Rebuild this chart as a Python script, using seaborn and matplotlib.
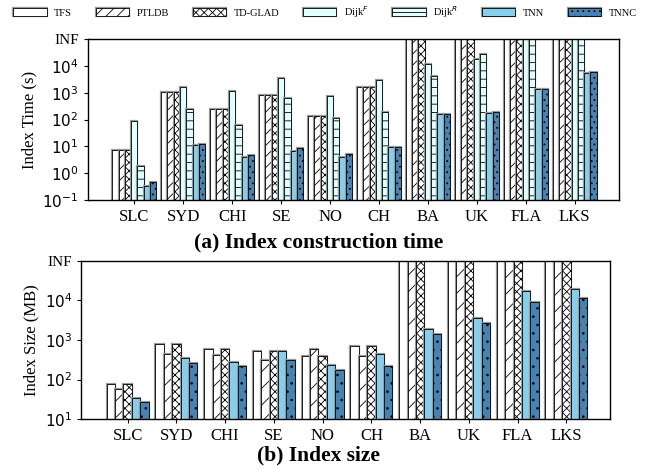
import numpy as np
import pandas as pd
import matplotlib
matplotlib.use("Agg")
import matplotlib.pyplot as plt
import matplotlib.patheffects as pe
import seaborn as sns

sns.set_style("ticks")
plt.rcParams['font.family'] = ['Liberation Serif', 'DejaVu Sans']
plt.rcParams['mathtext.fontset'] = 'dejavusans'
plt.rcParams['hatch.linewidth'] = 0.6
for key in ['text.color', 'axes.labelcolor', 'xtick.color', 'ytick.color']:
    plt.rcParams[key] = 'black'

INF = 1e5

datasets = ['SLC', 'SYD', 'CHI', 'SE', 'NO', 'CH', 'BA', 'UK', 'FLA', 'LKS']

# index construction time (s)
time_methods = ['TFS', 'PTLDB', 'TD-GLAD', 'Dijk$^F$', 'Dijk$^R$', 'TNN', 'TNNC']
t_tfs   = [7.5, 1060, 240, 820, 139, 1630, INF, INF, INF, INF]
t_ptldb = [7.5, 1060, 240, 820, 139, 1630, INF, INF, INF, INF]
t_glad  = [7.5, 1060, 240, 820, 139, 1630, INF, INF, INF, INF]
t_dijkf = [90, 1630, 1180, 3500, 780, 2960, 11700, 17900, INF, INF]
t_dijkr = [1.95, 245, 62, 630, 114, 190, 4300, 27600, INF, INF]
t_tnn   = [0.34, 11.2, 3.9, 6.9, 4.2, 9.4, 160, 178, 1330, 5560]
t_tnnc  = [0.47, 12.6, 4.9, 8.9, 5.2, 9.4, 160, 200, 1360, 5700]

# index size (MB)
size_methods = ['TFS', 'PTLDB', 'TD-GLAD', 'TNN', 'TNNC']
s_tfs   = [77, 785, 585, 525, 390, 725, INF, INF, INF, INF]
s_ptldb = [57, 435, 414, 309, 610, 406, INF, INF, INF, INF]
s_glad  = [77, 785, 585, 525, 390, 725, INF, INF, INF, INF]
s_tnn   = [35, 345, 275, 525, 231, 440, 1870, 3550, 17400, 19200]
s_tnnc  = [27, 260, 218, 309, 173, 218, 1400, 2660, 9030, 11400]

colors = {'TFS': 'white', 'PTLDB': 'white', 'TD-GLAD': 'white',
          'Dijk$^F$': '#e0ffff', 'Dijk$^R$': '#e0ffff',
          'TNN': '#87ceeb', 'TNNC': '#4682b4'}
hatch_top = {'TFS': '', 'PTLDB': '///', 'TD-GLAD': 'xxxx', 'Dijk$^F$': '',
             'Dijk$^R$': '--', 'TNN': '', 'TNNC': '...'}
hatch_bot = {'TFS': '', 'PTLDB': '//', 'TD-GLAD': 'xxxx', 'TNN': '', 'TNNC': '..'}


def long_df(methods, series):
    rows = []
    for m, vals in zip(methods, series):
        for d, v in zip(datasets, vals):
            rows.append({'dataset': d, 'method': m, 'value': v})
    return pd.DataFrame(rows)


df_time = long_df(time_methods, [t_tfs, t_ptldb, t_glad, t_dijkf, t_dijkr, t_tnn, t_tnnc])
df_size = long_df(size_methods, [s_tfs, s_ptldb, s_glad, s_tnn, s_tnnc])

fig = plt.figure(figsize=(6.5, 4.7), dpi=100)
ax1 = fig.add_axes([0.135, 0.574, 0.817, 0.343])
ax2 = fig.add_axes([0.125, 0.108, 0.814, 0.337])


def draw(ax, df, methods, hatches, width, lo, ylabel):
    sns.barplot(data=df, x='dataset', y='value', hue='method', hue_order=methods,
                order=datasets, palette=colors, saturation=1, width=width, errorbar=None,
                edgecolor='black', linewidth=0.6, legend=False, ax=ax)
    for m, cont in zip(methods, ax.containers):
        for bar in cont:
            bar.set_hatch(hatches[m])
            bar.set_path_effects([pe.Stroke(linewidth=1.6, foreground='0.6'), pe.Normal()])
    ax.set_yscale('log')
    ax.set_ylim(lo, INF)
    ticks = [10.0 ** k for k in range(int(np.log10(lo)), 5)] + [INF]
    labels = ['$10^{%d}$' % k for k in range(int(np.log10(lo)), 5)] + ['INF']
    ax.set_yticks(ticks)
    ax.set_yticklabels(labels)
    ax.minorticks_off()
    ax.set_xlim(-0.95, 9.9)
    ax.set_xlabel('')
    ax.set_ylabel(ylabel, fontsize=12)
    ax.tick_params(axis='x', labelsize=12, length=3)
    ax.tick_params(axis='y', labelsize=11, length=3)
    for s in ax.spines.values():
        s.set_linewidth(1.0)
        s.set_color('black')


draw(ax1, df_time, time_methods, hatch_top, 0.9, 1e-1, 'Index Time (s)')
draw(ax2, df_size, size_methods, hatch_bot, 0.86, 1e1, 'Index Size (MB)')

fig.text(0.49, 0.485, '(a) Index construction time', ha='center', va='center',
         fontsize=15.5, fontweight='bold')
fig.text(0.49, 0.03, '(b) Index size', ha='center', va='center',
         fontsize=15.5, fontweight='bold')

handles = list(ax1.containers[i][0] for i in range(len(time_methods)))
fig.legend(handles, time_methods, loc='upper center', bbox_to_anchor=(0.5, 1.005),
           ncol=7, frameon=False, fontsize=7.5, handlelength=3.2, handleheight=0.8,
           handletextpad=0.75, columnspacing=2.25, borderaxespad=0.2)

fig.savefig('out.png', dpi=100)
